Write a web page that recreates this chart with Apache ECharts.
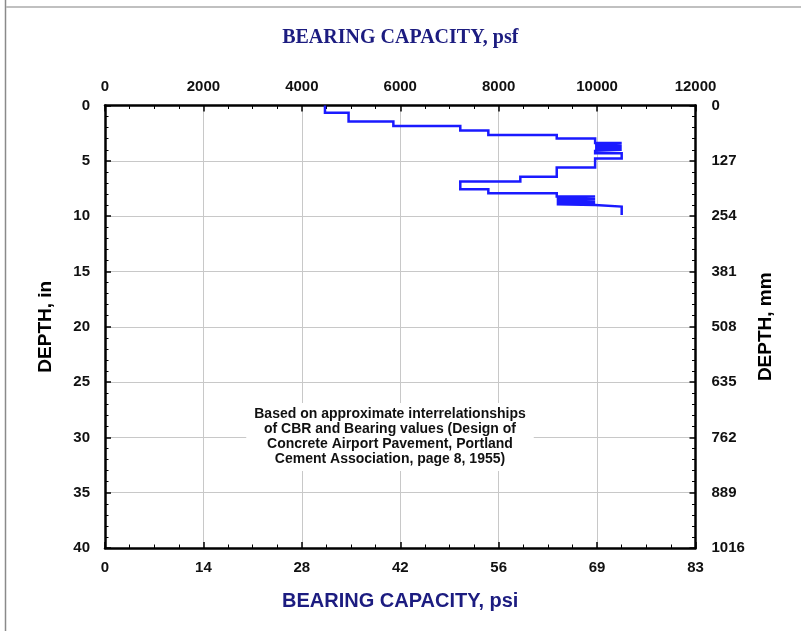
<!DOCTYPE html>
<html>
<head>
<meta charset="utf-8">
<script src="https://cdn.jsdelivr.net/npm/echarts@6/dist/echarts.min.js"></script>
<style>html,body{margin:0;padding:0;background:#fff;}#chart{width:801px;height:631px;}</style>
</head>
<body>
<div id="chart"></div>
<script>
// Layer boundaries (depth, in) and bearing capacity per layer (psf)
var depthBoundsIn = [0, 0.65, 1.45, 1.85, 2.26, 2.66, 2.98, 3.39, 3.5, 3.6, 3.7, 3.8, 3.9, 4.0, 4.1, 4.32, 4.79, 5.6, 6.43, 6.87, 7.57, 7.93, 8.22, 8.32, 8.42, 8.52, 8.62, 8.72, 8.82, 8.92, 9.0, 9.14, 9.9];
var bearingPsf    = [4470, 4950, 5860, 7220, 7790, 9180, 9960, 10500, 9960, 10500, 9960, 10500, 9960, 10500, 9960, 10500, 9960, 9180, 8440, 7220, 7790, 9180, 9960, 9180, 9960, 9180, 9960, 9180, 9960, 9180, 9960, 10500];
// Secondary tick labels
var psiLabels = ['0', '14', '28', '42', '56', '69', '83'];
var mmLabels = ['0', '127', '254', '381', '508', '635', '762', '889', '1016'];
var noteLines = ['Based on approximate interrelationships', 'of CBR and Bearing values (Design of', 'Concrete Airport Pavement, Portland', 'Cement Association, page 8, 1955)'];

var pathData = [];
for (var i = 0; i < bearingPsf.length; i++) {
  pathData.push([bearingPsf[i], depthBoundsIn[i]]);
  pathData.push([bearingPsf[i], depthBoundsIn[i + 1]]);
}

var chart = echarts.init(document.getElementById('chart'), null, {renderer: 'canvas'});
var labelFont = {color: '#111', fontWeight: 'bold', fontSize: 15, fontFamily: 'Liberation Sans, Arial, sans-serif'};
var axisLine = {show: true, onZero: false, lineStyle: {color: '#000', width: 2.5}};
var tick = {show: true, inside: true, length: 6, lineStyle: {color: '#000', width: 1.5}};
var minorTick = function (n) { return {show: true, splitNumber: n, length: 3.5, lineStyle: {color: '#000', width: 1}}; };

chart.setOption({
  animation: false,
  backgroundColor: '#fff',
  grid: {left: 105, right: 105.5, top: 105.5, bottom: 83, containLabel: false},
  xAxis: [{
    type: 'value', position: 'top', min: 0, max: 12000, interval: 2000,
    name: 'BEARING CAPACITY, psf', nameLocation: 'middle', nameGap: 58,
    nameTextStyle: {color: '#1c1c80', fontWeight: 'bold', fontSize: 20, fontFamily: 'Liberation Serif, Times New Roman, serif'},
    axisLine: axisLine, axisTick: tick, minorTick: minorTick(4),
    axisLabel: Object.assign({margin: 11, formatter: function (v) { return String(v); }}, labelFont),
    splitLine: {show: true, lineStyle: {color: '#c8c8c8', width: 1}}
  }, {
    type: 'value', position: 'bottom', min: 0, max: 12000, interval: 2000,
    name: 'BEARING CAPACITY, psi', nameLocation: 'middle', nameGap: 43,
    nameTextStyle: {color: '#1c1c80', fontWeight: 'bold', fontSize: 20, fontFamily: 'Liberation Sans, Arial, sans-serif'},
    axisLine: axisLine, axisTick: tick, minorTick: minorTick(4),
    axisLabel: Object.assign({margin: 12, formatter: function (v) { return psiLabels[Math.round(v / 2000)]; }}, labelFont),
    splitLine: {show: false}
  }],
  yAxis: [{
    type: 'value', position: 'left', inverse: true, min: 0, max: 40, interval: 5,
    name: 'DEPTH, in', nameLocation: 'middle', nameGap: 50, nameRotate: 90,
    nameTextStyle: {color: '#000', fontWeight: 'bold', fontSize: 19, fontFamily: 'Liberation Sans, Arial, sans-serif'},
    axisLine: axisLine, axisTick: tick, minorTick: minorTick(5),
    axisLabel: Object.assign({margin: 15}, labelFont),
    splitLine: {show: true, lineStyle: {color: '#c8c8c8', width: 1}}
  }, {
    type: 'value', position: 'right', inverse: true, min: 0, max: 40, interval: 5,
    name: 'DEPTH, mm', nameLocation: 'middle', nameGap: 55, nameRotate: 90,
    nameTextStyle: {color: '#000', fontWeight: 'bold', fontSize: 19, fontFamily: 'Liberation Sans, Arial, sans-serif'},
    axisLine: axisLine, axisTick: tick, minorTick: minorTick(5),
    axisLabel: Object.assign({margin: 16, formatter: function (v) { return mmLabels[Math.round(v / 5)]; }}, labelFont),
    splitLine: {show: false}
  }],
  series: [{
    type: 'line', xAxisIndex: 0, yAxisIndex: 0, data: pathData,
    showSymbol: false, symbol: 'none',
    lineStyle: {color: '#1a1aff', width: 2.5, join: 'miter'}
  }],
  graphic: [
    {type: 'line', shape: {x1: 5.5, y1: 0, x2: 5.5, y2: 631}, style: {stroke: '#8a8a8a', lineWidth: 1.5}},
    {type: 'line', shape: {x1: 6, y1: 7, x2: 801, y2: 7}, style: {stroke: '#c0c0c0', lineWidth: 2}},
    {type: 'text', x: 390, y: 403, z: 10, style: {
      text: noteLines.join('\n'), textAlign: 'center', textVerticalAlign: 'top', fill: '#111',
      font: 'bold 14px "Liberation Sans", Arial, sans-serif', lineHeight: 15,
      backgroundColor: '#fff', padding: [4, 8, 4, 8]
    }}
  ]
});
</script>
</body>
</html>
